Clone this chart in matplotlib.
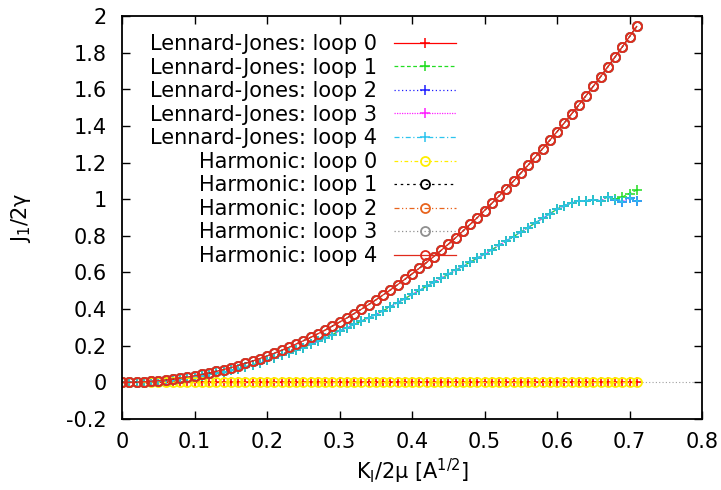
import matplotlib
matplotlib.use("Agg")
import matplotlib.pyplot as plt

plt.rcParams['font.family'] = ['DejaVu Sans']
plt.rcParams['mathtext.default'] = 'regular'

# ---- data ----
x_vals = [round(0.01 * i, 2) for i in range(72)]

zero_vals = [0.0] * 72

harmonic_vals = [
    0.000, 0.000, 0.001, 0.003, 0.006, 0.009, 0.013, 0.017, 0.023, 0.029,
    0.036, 0.043, 0.051, 0.060, 0.070, 0.080, 0.092, 0.104, 0.116, 0.130,
    0.144, 0.159, 0.175, 0.191, 0.209, 0.227, 0.245, 0.265, 0.285, 0.307,
    0.329, 0.351, 0.375, 0.399, 0.424, 0.450, 0.477, 0.504, 0.533, 0.562,
    0.592, 0.623, 0.654, 0.687, 0.720, 0.754, 0.789, 0.825, 0.862, 0.899,
    0.938, 0.977, 1.017, 1.058, 1.099, 1.142, 1.185, 1.230, 1.275, 1.321,
    1.368, 1.416, 1.465, 1.514, 1.565, 1.616, 1.668, 1.722, 1.776, 1.831,
    1.887, 1.943,
]

lj_vals = [
    0.000, 0.000, 0.001, 0.003, 0.005, 0.008, 0.011, 0.015, 0.019, 0.024,
    0.030, 0.036, 0.043, 0.050, 0.057, 0.065, 0.075, 0.085, 0.096, 0.108,
    0.120, 0.133, 0.147, 0.161, 0.175, 0.190, 0.207, 0.225, 0.243, 0.261,
    0.280, 0.298, 0.316, 0.334, 0.352, 0.370, 0.391, 0.413, 0.435, 0.457,
    0.480, 0.502, 0.524, 0.546, 0.568, 0.590, 0.612, 0.634, 0.656, 0.678,
    0.700, 0.724, 0.748, 0.772, 0.796, 0.820, 0.845, 0.870, 0.895, 0.920,
    0.945, 0.965, 0.980, 0.990, 0.991, 0.998, 0.991, 1.012, 0.998, 0.987,
    1.004, 0.989,
]

lj_loop1_vals = lj_vals[:68] + [1.000, 1.012, 1.031, 1.050]

lj_series = [
    ("Lennard-Jones: loop 0", zero_vals, "#ff0000", "-", 2.0),
    ("Lennard-Jones: loop 1", lj_loop1_vals, "#22dd22", (0, (3, 2)), 2.0),
    ("Lennard-Jones: loop 2", lj_vals, "#2020ff", (0, (1, 2)), 1.95),
    ("Lennard-Jones: loop 3", lj_vals, "#ff20ff", (0, (1, 1)), 1.9),
    ("Lennard-Jones: loop 4", lj_vals, "#2cc4ee", (0, (4, 2, 1, 2)), 2.0),
]
harm_series = [
    ("Harmonic: loop 0", zero_vals, "#ffee00", (0, (3, 2, 1, 2))),
    ("Harmonic: loop 1", harmonic_vals, "#000000", (0, (2, 3))),
    ("Harmonic: loop 2", harmonic_vals, "#e8641e", (0, (4, 2, 1, 2, 1, 2))),
    ("Harmonic: loop 3", harmonic_vals, "#909090", (0, (1, 2))),
    ("Harmonic: loop 4", harmonic_vals, "#e02a1c", "-"),
]

x_ticks = [0, 0.1, 0.2, 0.3, 0.4, 0.5, 0.6, 0.7, 0.8]
x_tick_labels = ["0", "0.1", "0.2", "0.3", "0.4", "0.5", "0.6", "0.7", "0.8"]
y_ticks = [-0.2, 0, 0.2, 0.4, 0.6, 0.8, 1.0, 1.2, 1.4, 1.6, 1.8, 2.0]
y_tick_labels = ["-0.2", "0", "0.2", "0.4", "0.6", "0.8", "1", "1.2", "1.4", "1.6", "1.8", "2"]

# ---- figure ----
fig = plt.figure(figsize=(7.21, 4.90), dpi=100)
ax = fig.add_axes([122 / 721, 71 / 490, 580 / 721, 403 / 490])

ax.axhline(0, color="#a0a0a0", lw=0.8, ls=(0, (1, 2)), zorder=0)

for label, vals, color, ls, z in lj_series:
    ax.plot(x_vals, vals, color=color, ls=ls, lw=0.9, marker="+",
            markersize=7.5, markeredgewidth=1.1, label=label, zorder=z)
for label, vals, color, ls in harm_series:
    ax.plot(x_vals, vals, color=color, ls=ls, lw=0.9, marker="o",
            markersize=6.5, markerfacecolor="none", markeredgewidth=1.3,
            label=label, zorder=2.1)

ax.set_xlim(0, 0.8)
ax.set_ylim(-0.2, 2.0)
ax.set_xticks(x_ticks)
ax.set_xticklabels(x_tick_labels)
ax.set_yticks(y_ticks)
ax.set_yticklabels(y_tick_labels)
ax.tick_params(direction="in", length=6, width=1.0, top=True, right=True,
               labelsize=15, pad=9)
ax.tick_params(axis="y", pad=11)
for s in ax.spines.values():
    s.set_linewidth(1.3)

ax.set_xlabel(r"$K_I$/2μ [A$^{1/2}$]", fontsize=15, labelpad=4)
ax.set_ylabel(r"$J_1$/2γ", fontsize=15, labelpad=24)

leg = ax.legend(loc="upper right", bbox_to_anchor=(0.576, 0.955),
                frameon=False, markerfirst=False, numpoints=1,
                fontsize=15, handlelength=3.0, handletextpad=0.8,
                labelspacing=0.17, borderpad=0, borderaxespad=0)
for col in leg._legend_handle_box.get_children():
    col.align = "right"

fig.savefig("out.png", dpi=100)
